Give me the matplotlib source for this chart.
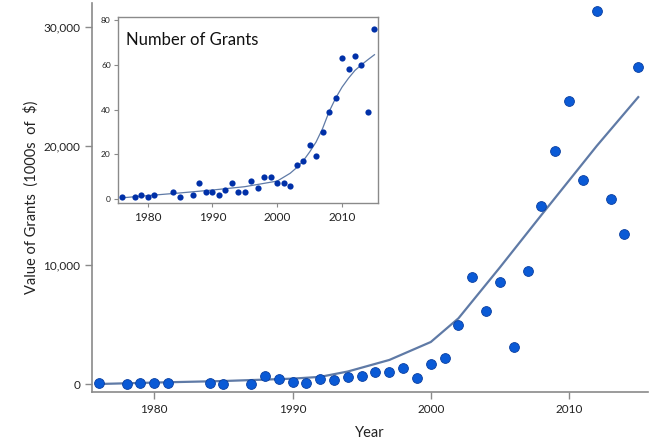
import numpy as np
import matplotlib
matplotlib.use('Agg')
import matplotlib.pyplot as plt

plt.rcParams['font.family'] = ['Lato', 'DejaVu Sans']

# value of grants (1000s of $) by year
years = [1976, 1978, 1979, 1980, 1981, 1984, 1985, 1987, 1988, 1989, 1990,
         1991, 1992, 1993, 1994, 1995, 1996, 1997, 1998, 1999, 2000, 2001,
         2002, 2003, 2004, 2005, 2006, 2007, 2008, 2009, 2010, 2011, 2012,
         2013, 2014, 2015]
values = [60, 0, 80, 110, 110, 60, 30, 30, 650, 420, 170,
          80, 390, 340, 590, 670, 980, 1010, 1370, 530, 1650, 2210,
          4930, 8990, 6110, 8600, 3080, 9500, 14930, 19610, 23780, 17110, 31370,
          15550, 12610, 26670]
# number of grants by year
counts = [1, 1, 2, 1, 2, 3, 1, 2, 7, 3, 3,
          2, 4, 7, 3, 3, 8, 5, 10, 10, 7, 7,
          6, 15, 17, 24, 19, 30, 39, 45, 63, 58, 64,
          60, 39, 76]

# fitted trend, main chart
trend_years = [1976, 1980, 1985, 1990, 1992, 1994, 1997, 2000, 2002, 2005,
               2008, 2010, 2012, 2015]
trend_values = [0, 120, 250, 450, 600, 1050, 2020, 3530, 5520, 9800,
                14200, 17100, 20000, 24100]
# smooth fit, inset
fit_years = [1976, 1980, 1985, 1990, 1995, 2000, 2002, 2003, 2004, 2005, 2006,
             2007, 2008, 2009, 2010, 2011, 2012, 2013, 2014, 2015]
fit_counts = [0.5, 1.5, 2.7, 4, 5.5, 8, 11.5, 14, 17, 21, 25.5,
              31.5, 39, 45, 50, 54, 57.5, 60, 62.3, 64.5]

spine_col = '#8a8a8a'

fig = plt.figure(figsize=(6.54, 4.45), dpi=100)
ax = fig.add_axes([0.1407, 0.1191, 0.850, 0.874])

ax.plot(trend_years, trend_values, color='#5f7aa6', linewidth=1.6, zorder=2)
ax.scatter(years, values, s=50, color='#0a5ad6', edgecolor='#0a3fa0',
           linewidth=0.6, zorder=3)

ax.set_xlim(1975.5, 2015.7)
ax.set_ylim(-672, 32000)
ax.set_xticks([1980, 1990, 2000, 2010])
ax.set_yticks([0, 10000, 20000, 30000])
ax.set_yticklabels(['0', '10,000', '20,000', '30,000'])
for s in ['top', 'right']:
    ax.spines[s].set_visible(False)
for s in ['left', 'bottom']:
    ax.spines[s].set_color(spine_col)
    ax.spines[s].set_linewidth(1.2)
ax.tick_params(colors=spine_col, labelcolor='#222222', labelsize=8.5,
               length=5, width=1)
ax.set_xlabel('Year', fontsize=10.5, color='#222222', labelpad=8)
ax.set_ylabel('Value of Grants  (1000s  of  $)', fontsize=10.5,
              color='#222222', labelpad=3)

# inset
ins = fig.add_axes([0.180, 0.5438, 0.3985, 0.4187])
ins.plot(fit_years, fit_counts, color='#5f7aa6', linewidth=0.9, zorder=2)
ins.scatter(years, counts, s=20, color='#0030a8', zorder=3, linewidth=0)
ins.set_xlim(1975.4, 2015.6)
ins.set_ylim(-1.8, 81.5)
ins.set_xticks([1980, 1990, 2000, 2010])
ins.set_yticks([0, 20, 40, 60, 80])
for s in ins.spines.values():
    s.set_color(spine_col)
    s.set_linewidth(1.0)
ins.tick_params(axis='x', colors=spine_col, labelcolor='#222222',
                labelsize=8.5, length=3, width=0.8)
ins.tick_params(axis='y', colors=spine_col, labelcolor='#222222',
                labelsize=6, length=3, width=0.8, pad=2)
ins.text(0.03, 0.92, 'Number of Grants', transform=ins.transAxes,
         fontsize=12, color='#111111', va='top', ha='left')

fig.savefig('out.png', dpi=100)
